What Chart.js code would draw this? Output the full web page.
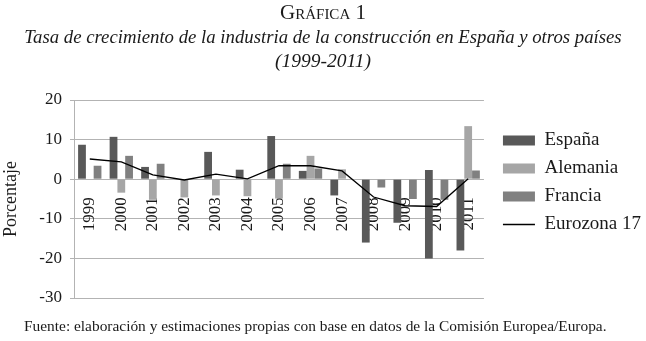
<!DOCTYPE html>
<html>
<head>
<meta charset="utf-8">
<script src="https://cdn.jsdelivr.net/npm/chart.js@4.4.1/dist/chart.umd.min.js"></script>
<style>
  html, body { margin: 0; padding: 0; background: #ffffff; }
  #wrap { position: relative; width: 646px; height: 341px; overflow: hidden; font-family: 'Liberation Serif', 'DejaVu Serif', serif; color: #1a1a1a; }
  #c { position: absolute; left: 0; top: 0; }
  .t { position: absolute; left: 0; width: 646px; text-align: center; white-space: nowrap; }
  #t1 { top: 0px; font-size: 21px; font-variant: small-caps; }
  #t2 { top: 26px; font-size: 18.75px; font-style: italic; }
  #t3 { top: 50px; font-size: 19.5px; font-style: italic; }
  #src { position: absolute; left: 24px; top: 317px; font-size: 15.4px; white-space: nowrap; }
</style>
</head>
<body>
<div id="wrap">
  <canvas id="c" width="646" height="341"></canvas>
  <div class="t" id="t1">Gráfica 1</div>
  <div class="t" id="t2">Tasa de crecimiento de la industria de la construcción en España y otros países</div>
  <div class="t" id="t3">(1999-2011)</div>
  <div id="src">Fuente: elaboración y estimaciones propias con base en datos de la Comisión Europea/Europa.</div>
</div>
<script>
const years = ['1999','2000','2001','2002','2003','2004','2005','2006','2007','2008','2009','2010','2011'];
const espana   = [8.7, 10.7, 3.1, 0, 6.9, 2.4, 10.9, 2.1, -4.1, -16.0, -11.0, [-20.0, 2.3], -18.0];
const alemania = [0, -3.4, -5.2, -4.6, -4.1, -4.3, -4.9, 5.9, 2.5, 0, 0, 0, 13.4];
const francia  = [3.4, 5.9, 3.9, 0, 0, 0, 3.9, 2.7, 0, -2.1, -5.0, -5.2, 2.2];
const eurozona = [5.1, 4.4, 1.1, -0.2, 1.3, 0.1, 3.4, 3.4, 2.1, -4.5, -6.7, -6.9, 0.1];
const yTicks = [-30, -20, -10, 0, 10, 20];

const FONT = "'Liberation Serif', 'DejaVu Serif', serif";
const TXT = '#1a1a1a';

const legendShift = {
  id: 'legendShift',
  afterLayout(chart) {
    const lg = chart.legend;
    if (lg) { lg.left += 10; lg.right += 10; }
  }
};

new Chart(document.getElementById('c'), {
  type: 'bar',
  data: {
    labels: years,
    datasets: [
      { label: 'España', data: espana, backgroundColor: '#595959', pointStyle: 'rect' },
      { label: 'Alemania', data: alemania, backgroundColor: '#a6a6a6', pointStyle: 'rect' },
      { label: 'Francia', data: francia, backgroundColor: '#808080', pointStyle: 'rect' },
      { type: 'line', label: 'Eurozona 17', data: eurozona, borderColor: '#000000', backgroundColor: '#000000',
        borderWidth: 1.3, pointRadius: 0, tension: 0, order: -1, pointStyle: 'line' }
    ]
  },
  options: {
    responsive: false,
    animation: false,
    devicePixelRatio: 1,
    layout: { padding: { top: 100, bottom: 43, left: 0, right: 5 } },
    datasets: { bar: { categoryPercentage: 0.74, barPercentage: 1.0 } },
    plugins: {
      tooltip: { enabled: false },
      legend: {
        position: 'right',
        align: 'start',
        title: { display: true, text: ' ', font: { size: 10, family: FONT }, padding: { top: 0, bottom: 10 } },
        labels: {
          usePointStyle: true,
          pointStyleWidth: 32,
          boxHeight: 10,
          padding: 9,
          color: TXT,
          font: { size: 19, family: FONT },
          sort: (a, b) => a.datasetIndex - b.datasetIndex
        }
      }
    },
    scales: {
      x: {
        position: { y: 0 },
        z: 1,
        afterFit: (s) => { s.height = 0; },
        grid: { display: false },
        border: { display: false },
        ticks: { minRotation: 90, maxRotation: 90, padding: 10, color: TXT, font: { size: 17, family: FONT }, autoSkip: false }
      },
      y: {
        min: -30, max: 20,
        afterFit: (s) => { s.width = 74; },
        afterBuildTicks: (s) => { s.ticks = yTicks.map(v => ({ value: v })); },
        grid: { color: '#b3b3b3', lineWidth: 1, tickLength: 4, drawTicks: true },
        border: { display: true, color: '#b3b3b3' },
        ticks: { padding: 8, color: TXT, font: { size: 17, family: FONT } },
        title: { display: true, text: 'Porcentaje', color: TXT, font: { size: 18, family: FONT }, padding: 0 }
      }
    }
  },
  plugins: [legendShift]
});
</script>
</body>
</html>
